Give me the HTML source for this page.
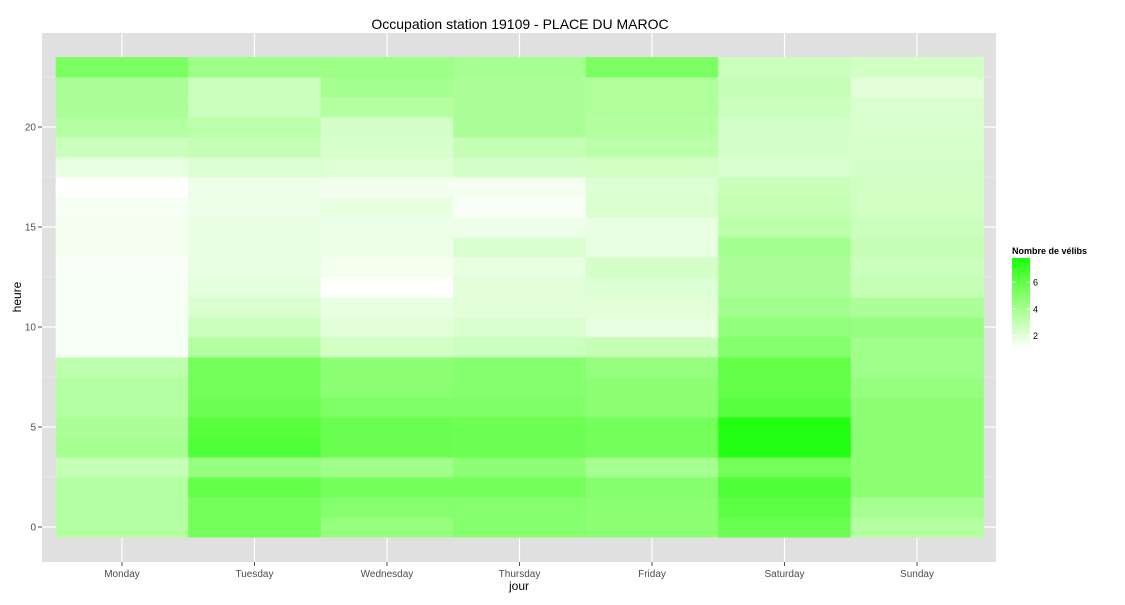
<!DOCTYPE html>
<html><head><meta charset="utf-8"><style>
body{margin:0;background:#fff;width:1125px;height:600px;overflow:hidden;font-family:"Liberation Sans",sans-serif}
</style></head><body>
<svg width="1125" height="600" id="chart" xmlns="http://www.w3.org/2000/svg">
<text x="520" y="29" text-anchor="middle" font-size="14" fill="#000">Occupation station 19109 - PLACE DU MAROC</text>
<rect x="42" y="33" width="954" height="529" fill="#E0E0E0"/>
<g id="grid"></g><g id="tiles"></g><g id="axes"></g>
<text x="519" y="590" text-anchor="middle" font-size="12" fill="#000">jour</text>
<text transform="translate(21,297) rotate(-90)" text-anchor="middle" font-size="12" fill="#000">heure</text>
<text x="1012" y="254" font-size="9" font-weight="bold" fill="#000">Nombre de vélibs</text>
<g id="legend"></g>
</svg>
<script>
const days=["Monday","Tuesday","Wednesday","Thursday","Friday","Saturday","Sunday"];
const yTicks=[0,5,10,15,20];
const legendTicks=[2,4,6];
const monday=[3.5,3.5,3.5,3.0,4.0,3.8,3.5,3.5,3.2,1.3,1.3,1.3,1.3,1.2,1.4,1.4,1.3,1.0,1.8,2.8,3.5,3.8,3.8,5.3];
const tuesday=[5.5,5.5,6.0,4.5,6.5,6.3,5.7,5.5,5.5,3.5,2.8,2.3,1.9,1.8,1.8,1.8,1.6,1.6,2.2,3.0,3.3,2.8,2.8,4.3];
const wednesday=[4.5,5.0,5.5,4.2,5.8,5.8,5.2,4.8,4.8,2.6,2.0,1.8,1.1,1.4,1.6,1.6,1.8,1.5,2.1,2.4,2.5,3.5,4.0,4.3];
const thursday=[5.0,5.0,5.5,4.8,5.7,5.7,5.2,5.0,5.0,2.8,2.3,2.0,2.0,1.8,2.3,1.6,1.2,1.4,2.5,3.0,3.8,3.8,3.8,4.0];
const friday=[4.8,4.8,5.0,4.0,5.5,5.5,4.8,4.8,4.5,3.0,1.8,2.0,2.2,2.5,1.8,1.8,2.3,2.2,2.6,3.3,3.5,3.7,3.7,5.3];
const saturday=[5.8,6.2,6.5,5.5,7.6,7.6,6.3,6.0,6.0,5.0,4.6,4.1,3.8,3.8,4.0,3.3,3.1,2.9,2.3,2.5,2.5,2.8,3.0,2.8];
const sunday=[3.5,4.0,4.8,4.8,4.8,4.8,4.8,4.5,4.2,4.2,4.5,3.8,3.0,2.8,3.0,2.8,2.6,2.6,2.5,2.4,2.3,2.3,2.0,2.6];
const series=[monday,tuesday,wednesday,thursday,friday,saturday,sunday];
const vMin=1,vMax=8.2;
const NS="http://www.w3.org/2000/svg";
const xC=i=>122+132.5*i, cellW=132.6;
const yC=h=>527-20*h;
function color(v){let t=Math.max(0,Math.min(1,(v-vMin)/(vMax-vMin)));
 const r=Math.round(255*Math.pow(1-t,0.8)),b=Math.round(255*Math.pow(1-t,1.05));
 return `rgb(${r},255,${b})`;}
function mk(tag,attrs,parent){const e=document.createElementNS(NS,tag);for(const k in attrs)e.setAttribute(k,attrs[k]);parent.appendChild(e);return e;}
const grid=document.getElementById('grid'),tiles=document.getElementById('tiles'),axes=document.getElementById('axes'),leg=document.getElementById('legend');
for(let h=2.5;h<=22.5;h+=5){const l=mk('line',{x1:42,x2:996,y1:yC(h),y2:yC(h),stroke:'#F0F0F0','stroke-width':0.6},grid);

}
yTicks.forEach(h=>{const l=mk('line',{x1:42,x2:996,y1:yC(h),y2:yC(h),stroke:'#fff','stroke-width':1.2},grid);


const t=mk('text',{x:36,y:yC(h)+3.5,'text-anchor':'end','font-size':10,fill:'#4D4D4D'},axes);t.textContent=h;


const tk=mk('line',{x1:38,x2:42,y1:yC(h),y2:yC(h),stroke:'#4D4D4D'},axes);

});
days.forEach((d,i)=>{const l=mk('line',{x1:xC(i),x2:xC(i),y1:33,y2:562,stroke:'#fff','stroke-width':1.2},grid);


const t=mk('text',{x:xC(i),y:577,'text-anchor':'middle','font-size':10,fill:'#4D4D4D'},axes);t.textContent=d;


const tk=mk('line',{x1:xC(i),x2:xC(i),y1:562,y2:566,stroke:'#4D4D4D'},axes);


series[i].forEach((v,h)=>{const r=mk('rect',{x:xC(i)-cellW/2,y:yC(h)-10,width:cellW+0.5,height:20.5,fill:color(v)},tiles);

});});
const lgTop=258,lgBot=349,lgX=1012,lgW=18,lgMax=7.8;
const ly=v=>lgBot-(v-vMin)/(lgMax-vMin)*(lgBot-lgTop);
for(let k=0;k<40;k++){const v0=vMin+(lgMax-vMin)*k/40,v1=vMin+(lgMax-vMin)*(k+1)/40;
const r=mk('rect',{x:lgX,y:ly(v1),width:lgW,height:ly(v0)-ly(v1)+0.5,fill:color((v0+v1)/2)},leg);

}
legendTicks.forEach(v=>{const t=mk('text',{x:1033,y:ly(v)+3.5,'font-size':9,fill:'#000'},leg);t.textContent=v;


mk('line',{x1:lgX,x2:lgX+4,y1:ly(v),y2:ly(v),stroke:'#fff'},leg);
mk('line',{x1:lgX+lgW-4,x2:lgX+lgW,y1:ly(v),y2:ly(v),stroke:'#fff'},leg);});
</script>
</body></html>
